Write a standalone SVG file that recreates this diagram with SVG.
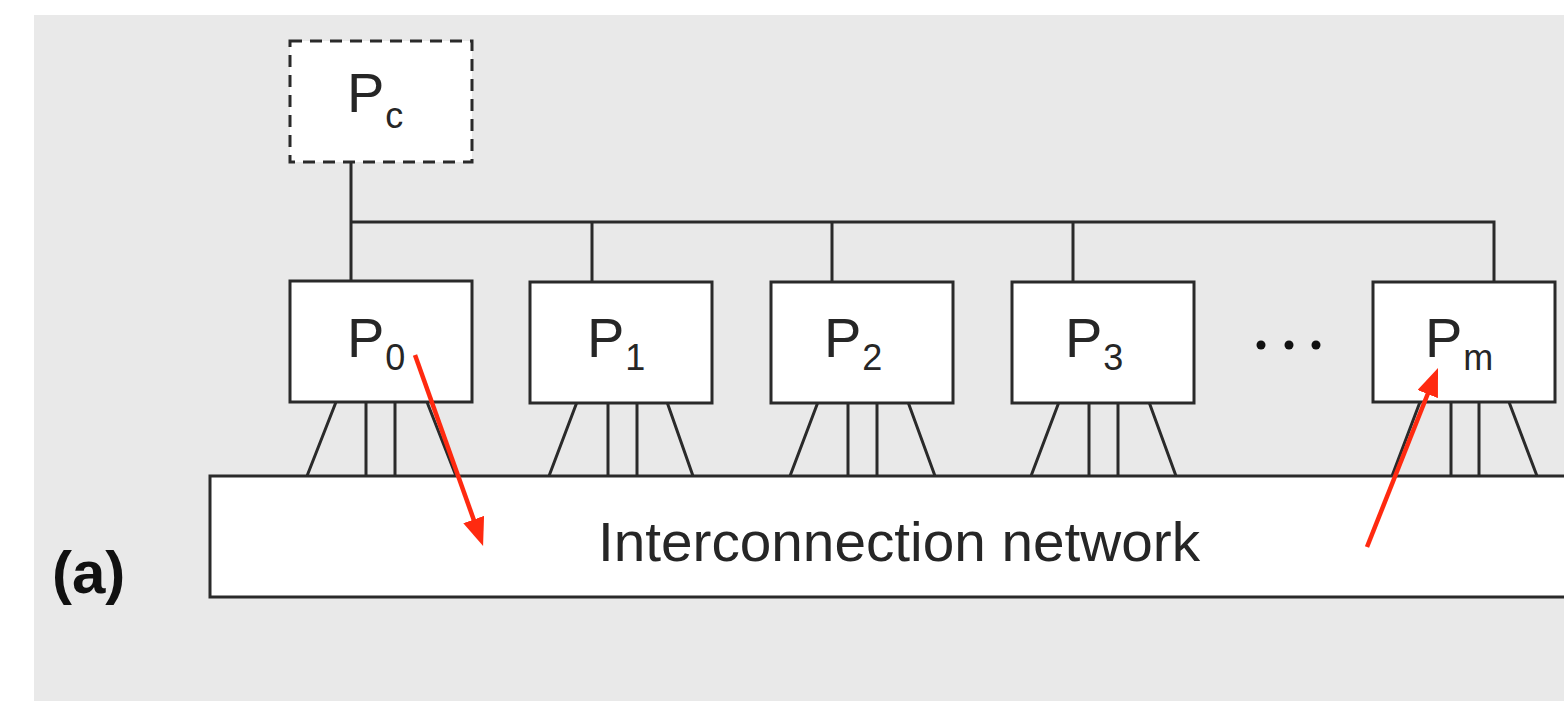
<svg xmlns="http://www.w3.org/2000/svg" width="1564" height="701" viewBox="0 0 1564 701">
<defs>
<style>
.box{fill:#fff;stroke:#2a2a2a;stroke-width:3}
.dash{fill:#fff;stroke:#2a2a2a;stroke-width:3;stroke-dasharray:12 8}
.ln{fill:none;stroke:#2a2a2a;stroke-width:3}
.lbl{font-family:"Liberation Sans",Arial,sans-serif;fill:#262626;font-size:56px}
.sub{font-size:36px}
.red{fill:none;stroke:#ff2a10;stroke-width:4.5}
</style>
<marker id="ah" viewBox="0 0 28 22" refX="6" refY="11" markerWidth="28" markerHeight="22" markerUnits="userSpaceOnUse" orient="auto">
<path d="M0,0 L28,11 L0,22 z" fill="#ff2a10"/>
</marker>
</defs>
<rect x="0" y="0" width="1564" height="701" fill="#fff"/>
<rect x="34" y="15" width="1530" height="686" fill="#e9e9e9"/>

<g id="connectors">
<path class="ln" d="M351,162 V281 M351,222 H1494 V282 M592,222 V283 M832,222 V283 M1073,222 V283"/>
<path class="ln" d="M336,402 L307,476 M366,402 V476 M395,402 V476 M427,402 L456,476"/>
<path class="ln" d="M577,402 L549,476 M608,402 V476 M637,402 V476 M667,402 L693,476"/>
<path class="ln" d="M818,402 L790,476 M848,402 V476 M877,402 V476 M908,402 L935,476"/>
<path class="ln" d="M1059,402 L1031,476 M1089,402 V476 M1118,402 V476 M1149,402 L1176,476"/>
<path class="ln" d="M1420,402 L1392,476 M1451,402 V476 M1479,402 V476 M1509,402 L1537,476"/>
</g>

<g id="network">
<rect class="box" x="210" y="476" width="1370" height="121"/>
<text class="lbl" x="598" y="561" textLength="602" lengthAdjust="spacingAndGlyphs">Interconnection network</text>
</g>

<g id="Pc">
<rect class="dash" x="290" y="41" width="182" height="121"/>
<text class="lbl" x="347" y="112">P<tspan class="sub" dx="1" dy="16">c</tspan></text>
</g>
<g id="P0">
<rect class="box" x="290" y="281" width="182" height="121"/>
<text class="lbl" x="347" y="357">P<tspan class="sub" dx="1" dy="13">0</tspan></text>
</g>
<g id="P1">
<rect class="box" x="530" y="282" width="182" height="121"/>
<text class="lbl" x="587" y="357">P<tspan class="sub" dx="1" dy="13">1</tspan></text>
</g>
<g id="P2">
<rect class="box" x="771" y="282" width="182" height="121"/>
<text class="lbl" x="824" y="357">P<tspan class="sub" dx="1" dy="13">2</tspan></text>
</g>
<g id="P3">
<rect class="box" x="1012" y="282" width="182" height="121"/>
<text class="lbl" x="1065" y="357">P<tspan class="sub" dx="1" dy="13">3</tspan></text>
</g>
<g id="Pm">
<rect class="box" x="1373" y="282" width="182" height="120"/>
<text class="lbl" x="1425" y="357">P<tspan class="sub" dx="1" dy="13">m</tspan></text>
</g>

<g id="dots" fill="#111">
<circle cx="1261" cy="345" r="4.5"/>
<circle cx="1289" cy="345" r="4.5"/>
<circle cx="1316" cy="345" r="4.5"/>
</g>

<g id="red-arrows">
<line class="red" x1="415" y1="355" x2="475.7" y2="525.2" marker-end="url(#ah)"/>
<line class="red" x1="1367" y1="547" x2="1429.9" y2="388.5" marker-end="url(#ah)"/>
</g>

<text x="52" y="593" font-family="Liberation Sans,Arial,sans-serif" font-weight="bold" font-size="60" fill="#111">(a)</text>
</svg>
